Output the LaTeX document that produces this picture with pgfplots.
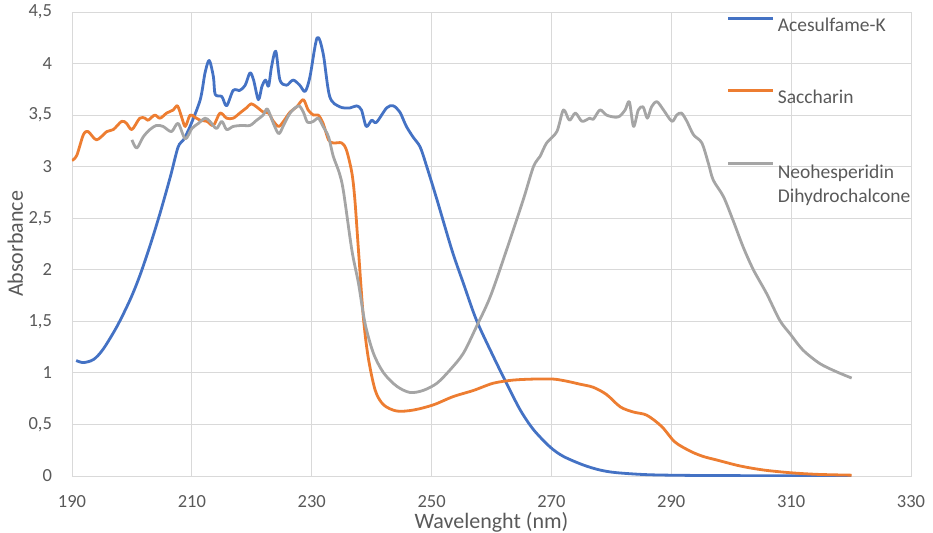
\documentclass[border=0pt]{standalone}
\usepackage{pgfplots}
\pgfplotsset{compat=1.18}
\usepackage{fontspec}
\setmainfont{Carlito}
\definecolor{cblue}{HTML}{4472C4}
\definecolor{corange}{HTML}{ED7D31}
\definecolor{cgray}{HTML}{A5A5A5}
\definecolor{gridc}{HTML}{D9D9D9}
\definecolor{txt}{HTML}{595959}
\begin{document}
\begin{tikzpicture}
\path[use as bounding box] (-72pt,-56pt) rectangle (861pt,476pt);
\begin{axis}[
  at={(0pt,0pt)}, anchor=south west,
  scale only axis, width=839pt, height=464pt,
  xmin=190, xmax=330, ymin=0, ymax=4.5,
  xtick={190,210,...,330},
  ytick={0,0.5,...,4.5},
  /pgf/number format/assume math mode=true,
  /pgf/number format/.cd, use comma, fixed, precision=1, 1000 sep={},
  /pgfplots/.cd,
  major tick length=0pt,
  grid=major,
  grid style={draw=gridc, line width=0.8pt},
  axis line style={draw=gridc, line width=0.8pt},
  tick label style={font=\fontsize{18.5}{22}\selectfont, text=txt},
  yticklabel style={xshift=-16.5pt},
  xticklabel style={yshift=-17.5pt, inner sep=2pt},
  xlabel={Wavelenght (nm)},
  ylabel={Absorbance},
  label style={font=\fontsize{22}{26}\selectfont, text=txt},
  xlabel style={at={(axis description cs:0.5,0)}, anchor=base, yshift=-52pt, inner sep=1pt},
  ylabel style={at={(axis description cs:0,0.5)}, anchor=base, yshift=49pt},
  legend style={at={(rel axis cs:0.7807,0.9883)}, anchor=north west, draw=none, fill=none,
    font=\fontsize{19.5}{24.5}\selectfont, text=txt, row sep=56pt,
    inner sep=0pt, outer sep=0pt,
    /tikz/every odd column/.append style={column sep=3pt},
    nodes={inner sep=0pt, outer sep=0pt}},
  legend cell align=left,
  legend image code/.code={\draw[#1] (0pt,7pt) -- (45pt,7pt);},
  every axis plot/.append style={line width=2.8pt, smooth, tension=0.5, line join=round},
]
\addplot[cblue] coordinates {
(190.7,1.12) (191.9,1.10) (193.6,1.13) (195.2,1.23) (197.5,1.45) (199.7,1.71)
(201.3,1.94) (203.0,2.23) (204.7,2.55) (206.4,2.90) (207.7,3.19) (208.6,3.26)
(209.7,3.39) (211.4,3.65) (212.2,3.91) (212.9,4.03) (213.6,3.87) (213.9,3.70)
(215.0,3.68) (215.8,3.59) (216.9,3.74) (218.0,3.74) (218.9,3.79) (219.7,3.91)
(220.3,3.84) (221.1,3.65) (221.7,3.78) (222.3,3.84) (222.8,3.78) (223.3,3.97)
(224.0,4.12) (224.7,3.84) (225.8,3.79) (226.9,3.84) (228.0,3.79) (228.9,3.73)
(229.7,3.87) (230.9,4.25) (231.9,4.10) (233.0,3.68) (234.7,3.58) (236.4,3.57)
(237.5,3.59) (238.3,3.55) (239.1,3.39) (240.0,3.45) (240.8,3.43) (242.5,3.57)
(243.6,3.59) (244.7,3.53) (245.8,3.39) (247.0,3.28) (248.1,3.19) (249.2,3.00)
(250.9,2.68) (253.4,2.19) (255.3,1.87) (257.5,1.51) (260.3,1.16) (262.5,0.90)
(264.8,0.64) (267.0,0.45) (269.8,0.28) (272.0,0.19) (275.3,0.107) (278.1,0.058)
(280.9,0.032) (286.4,0.012) (294.8,0.005) (305.0,0.003) (320.0,0.002)
};
\addlegendentry{Acesulfame-K}
\addplot[corange] coordinates {
(190.0,3.06) (190.8,3.11) (191.9,3.31) (192.7,3.34) (194.1,3.26) (195.8,3.34)
(196.9,3.36) (198.3,3.44) (199.1,3.42) (200.0,3.36) (201.3,3.47) (202.2,3.47)
(202.7,3.45) (203.8,3.50) (204.7,3.47) (205.8,3.52) (206.9,3.55) (207.6,3.59)
(208.3,3.48) (208.9,3.39) (209.7,3.50) (210.5,3.48) (211.4,3.45) (212.5,3.44)
(213.6,3.40) (214.7,3.52) (215.8,3.47) (216.9,3.47) (218.0,3.52) (219.1,3.57)
(219.9,3.61) (220.8,3.58) (221.9,3.53) (222.8,3.52) (223.6,3.44) (224.5,3.39)
(225.3,3.44) (226.4,3.53) (227.5,3.58) (228.6,3.65) (229.4,3.55) (230.3,3.50)
(231.1,3.50) (231.9,3.42) (232.8,3.26) (233.6,3.23) (235.0,3.23) (235.8,3.16)
(236.7,2.94) (237.2,2.68) (237.8,2.19) (238.6,1.55) (239.4,1.16) (240.6,0.83)
(242.0,0.69) (244.2,0.63) (247.0,0.64) (250.3,0.69) (253.6,0.77) (257.0,0.83)
(260.3,0.90) (263.6,0.93) (267.0,0.94) (270.3,0.94) (272.5,0.92) (274.8,0.89)
(277.0,0.86) (279.2,0.79) (281.5,0.67) (283.7,0.62) (285.9,0.59) (288.4,0.48)
(290.6,0.33) (293.2,0.24) (295.3,0.19) (297.6,0.155) (301.5,0.097) (305.4,0.058)
(309.8,0.032) (314.3,0.016) (320.1,0.008)
};
\addlegendentry{Saccharin}
\addplot[cgray] coordinates {
(200.0,3.26) (200.8,3.18) (201.9,3.29) (203.0,3.36) (204.1,3.40) (205.2,3.39)
(206.6,3.34) (207.7,3.42) (208.9,3.27) (210.0,3.37) (211.1,3.42) (212.2,3.47)
(213.0,3.44) (214.1,3.37) (215.0,3.44) (215.8,3.36) (216.9,3.39) (218.3,3.40)
(219.7,3.40) (220.8,3.45) (221.9,3.50) (222.6,3.56) (223.6,3.42) (224.5,3.32)
(225.3,3.40) (226.4,3.52) (227.8,3.59) (228.6,3.53) (229.3,3.43) (230.3,3.44)
(231.1,3.47) (231.9,3.39) (232.8,3.29) (233.6,3.10) (234.6,2.94) (235.3,2.76)
(236.7,2.19) (237.8,1.87) (238.9,1.48) (240.3,1.19) (242.0,1.00) (244.2,0.87)
(246.4,0.81) (248.6,0.83) (250.9,0.90) (253.1,1.03) (255.3,1.19) (257.5,1.45)
(259.8,1.74) (262.5,2.19) (265.3,2.68) (267.0,3.00) (268.1,3.10) (269.2,3.23)
(270.9,3.34) (272.0,3.55) (273.0,3.45) (274.0,3.52) (275.1,3.44) (276.4,3.47)
(277.0,3.46) (278.1,3.55) (279.2,3.50) (280.6,3.48) (281.4,3.49) (282.3,3.55)
(283.0,3.63) (283.7,3.39) (284.5,3.55) (285.3,3.58) (286.0,3.47) (286.7,3.58)
(287.6,3.63) (288.7,3.55) (290.1,3.44) (290.9,3.50) (291.7,3.52) (292.6,3.44)
(293.7,3.31) (295.1,3.23) (296.2,3.03) (297.0,2.87) (298.7,2.71) (300.3,2.48)
(302.0,2.22) (303.7,2.00) (305.9,1.77) (308.1,1.51) (309.8,1.38) (312.0,1.22)
(314.8,1.09) (317.6,1.01) (320.1,0.95)
};
\addlegendentry{\begin{tabular}[t]{@{}l@{}}Neohesperidin\\Dihydrochalcone\end{tabular}}
\end{axis}
\end{tikzpicture}
\end{document}
